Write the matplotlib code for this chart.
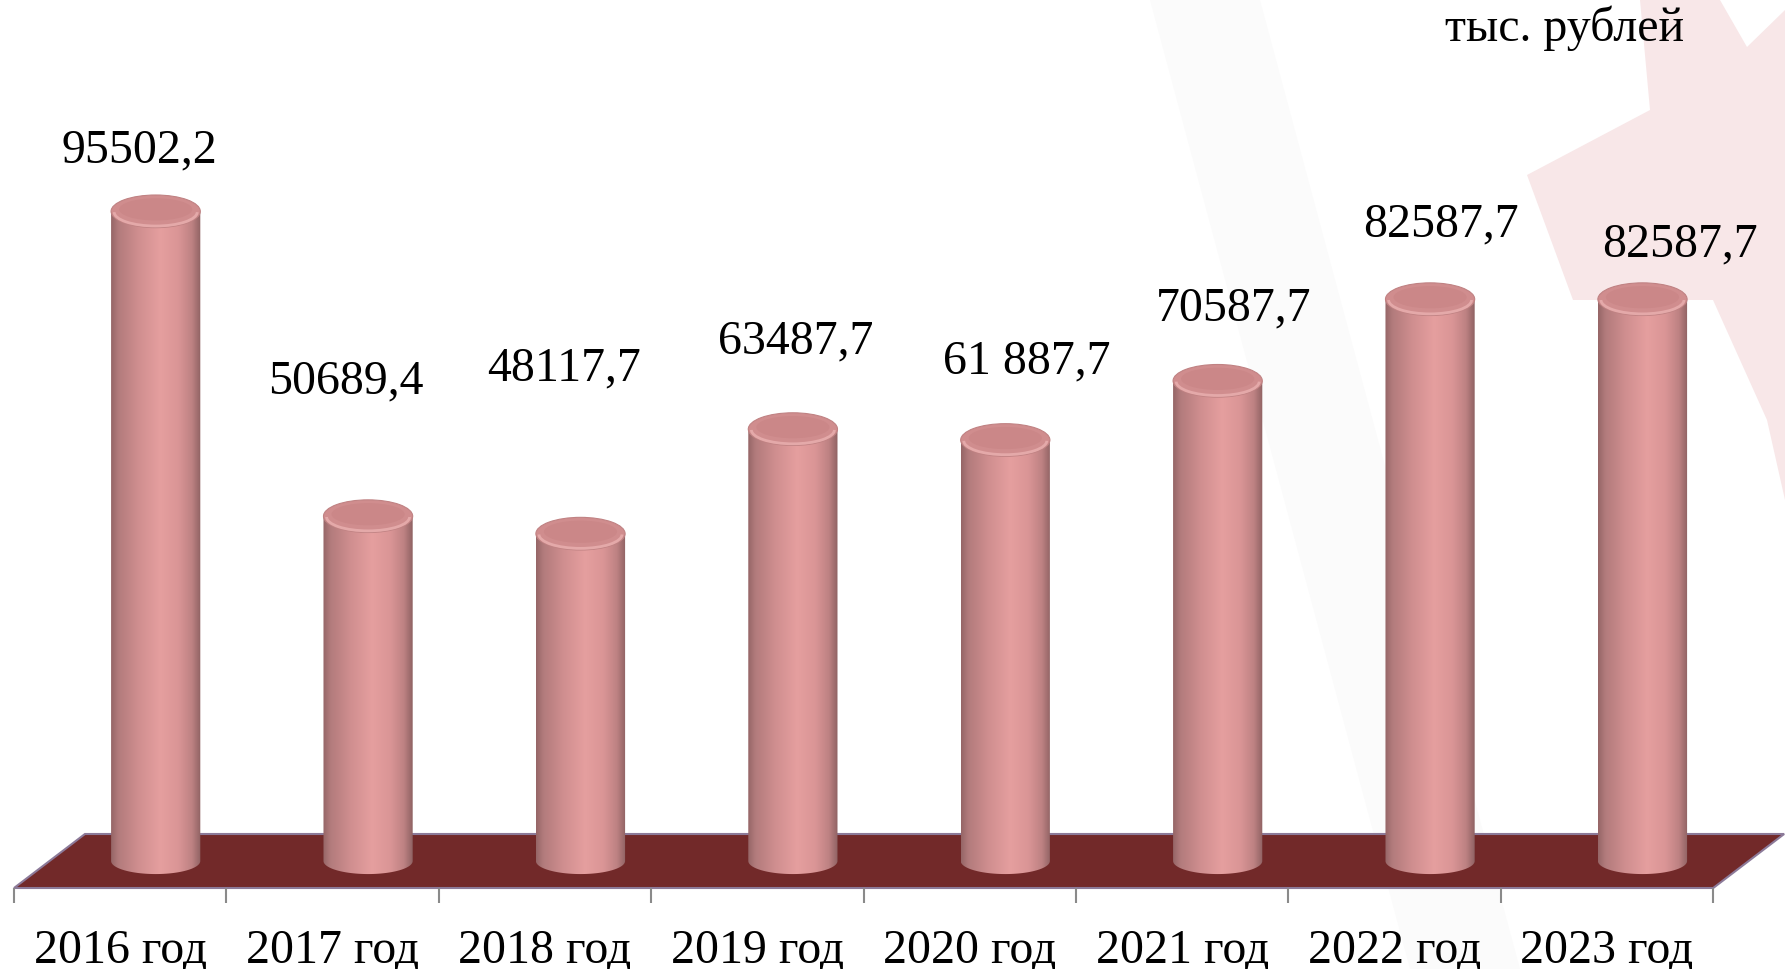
import numpy as np
import matplotlib
matplotlib.use('Agg')
import matplotlib.pyplot as plt
from matplotlib.patches import Polygon, Ellipse, PathPatch, Arc
from matplotlib.path import Path
from matplotlib.colors import LinearSegmentedColormap

# данные
years = ['2016 год', '2017 год', '2018 год', '2019 год',
         '2020 год', '2021 год', '2022 год', '2023 год']
values = [95502.2, 50689.4, 48117.7, 63487.7, 61887.7, 70587.7, 82587.7, 82587.7]
value_labels = ['95502,2', '50689,4', '48117,7', '63487,7',
                '61 887,7', '70587,7', '82587,7', '82587,7']
unit_label = 'тыс. рублей'

# смещения подписей (пиксели) относительно верха цилиндра
label_dx = [-16, -22, -16, 3, 21, 16, 11, 37]
label_dy = [49, 123, 153, 76, 67, 60, 63, 43]

plt.rcParams['font.family'] = ['Liberation Serif', 'DejaVu Serif']

fig = plt.figure(figsize=(17.85, 9.69), dpi=100)
fig.patch.set_facecolor('white')
ax = fig.add_axes([0, 0, 1, 1])
ax.set_facecolor('none')

# фон: бледная звезда справа
W, H = 1785, 969
pts = [(1640, 0), (1720, 0), (1747, 47), (1785, 10), (1785, 500), (1767, 420),
       (1713, 300), (1573, 300), (1527, 175), (1650, 110)]
star = Polygon([(x / W, 1 - y / H) for x, y in pts], closed=True,
               transform=fig.transFigure, facecolor='#f8e7e8', edgecolor='none',
               zorder=-2)
fig.patches.append(star)
band = Polygon([(1150 / W, 1), (1260 / W, 1), (1520 / W, 0), (1410 / W, 0)], closed=True,
               transform=fig.transFigure, facecolor='#fbfbfb', edgecolor='none', zorder=-3)
fig.patches.append(band)

n = len(values)
xs = np.arange(n)
depth_x = 0.334      # глубина пола по x
floor_half = 3970    # полуглубина пола по y
shift = depth_x / 2  # смещение цилиндров вглубь
r = 0.21
ey = 2400

# пол
floor = Polygon([(-0.5, -floor_half), (n - 0.5, -floor_half),
                 (n - 0.5 + depth_x, floor_half), (-0.5 + depth_x, floor_half)],
                closed=True, facecolor='#722929', edgecolor='#8c7a99', lw=1.5, zorder=1)
ax.add_patch(floor)

# риски оси
ax.vlines(np.arange(n + 1) - 0.5, -6174, -floor_half, color='#8a8a8a', lw=1.5, zorder=1)

cmap = LinearSegmentedColormap.from_list('cyl', [
    (0.0, '#956566'), (0.08, '#b27b7c'), (0.3, '#cf8e8f'), (0.55, '#e59f9f'),
    (0.75, '#da9596'), (0.9, '#be8283'), (1.0, '#8f6263')])
grad = np.linspace(0, 1, 256).reshape(1, -1)

for i, v in enumerate(values):
    xc = xs[i] + shift
    t = np.linspace(np.pi, 2 * np.pi, 60)
    verts = [(xc - r, v), (xc - r, 0)]
    verts += [(xc + r * np.cos(a), ey * 0.8 * np.sin(a)) for a in t]
    verts += [(xc + r, v), (xc - r, v)]
    codes = [Path.MOVETO] + [Path.LINETO] * (len(verts) - 2) + [Path.CLOSEPOLY]
    body = PathPatch(Path(verts, codes), facecolor='none', edgecolor='none')
    ax.add_patch(body)
    im = ax.imshow(grad, cmap=cmap, extent=(xc - r, xc + r, -ey, v),
                   aspect='auto', interpolation='bilinear', zorder=2)
    im.set_clip_path(body)
    ax.add_patch(Ellipse((xc, v), 2 * r, 2 * ey, facecolor='#d08d8e',
                         edgecolor='#c08283', lw=0.8, zorder=3))
    ax.add_patch(Ellipse((xc, v + ey * 0.12), 2 * r * 0.82, 2 * ey * 0.68,
                         facecolor='#cb8788', edgecolor='none', zorder=3))
    ax.add_patch(Arc((xc, v - ey * 0.05), 2 * r * 0.93, 2 * ey * 0.85,
                     theta1=195, theta2=345, color='#e4a9a9', lw=2, zorder=3))
    ax.annotate(value_labels[i], xy=(xc, v), xytext=(label_dx[i], label_dy[i]),
                textcoords='offset pixels', ha='center', va='baseline',
                fontsize=34.5, color='black', zorder=4)
    ax.annotate(years[i], xy=(xs[i], -floor_half), xytext=(0, -74),
                textcoords='offset pixels', ha='center', va='baseline',
                fontsize=34.5, color='black')

fig.text(1565 / W, 1 - 28 / H, unit_label, ha='center', va='center',
         fontsize=34.5, color='black')

ax.set_xlim(-0.566, 7.838)
ax.set_ylim(-15876, 126567)
ax.axis('off')

plt.savefig('out.png', dpi=100)
